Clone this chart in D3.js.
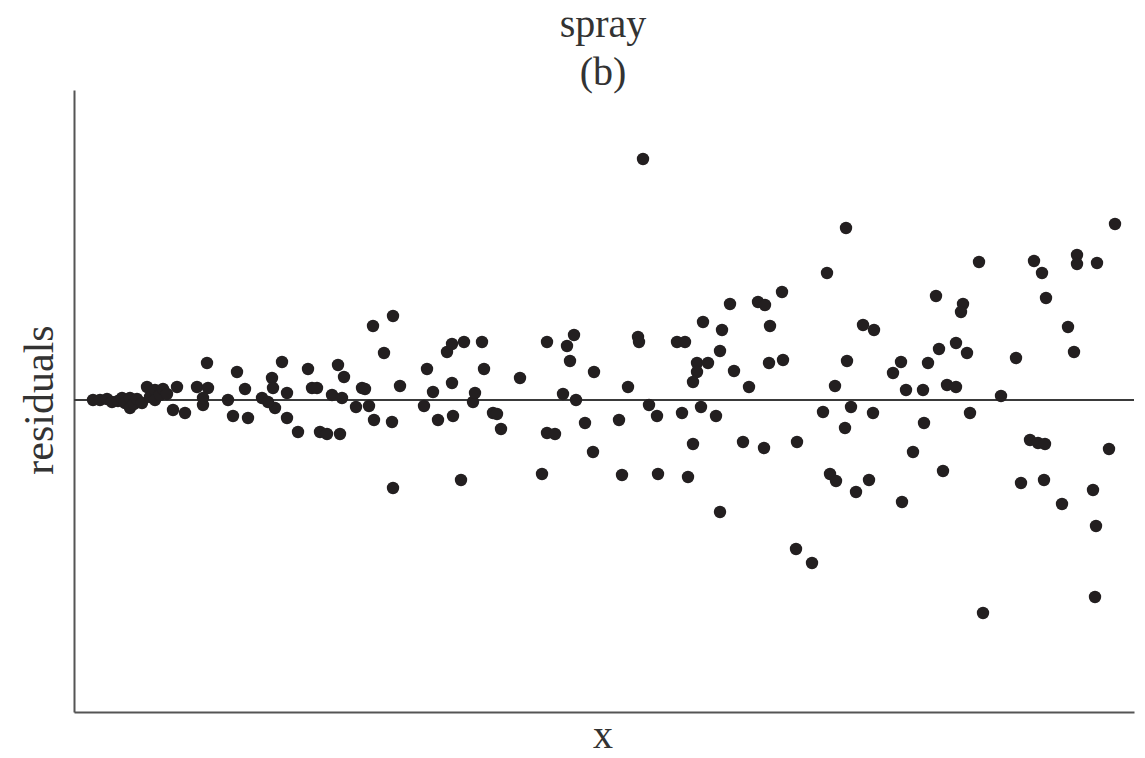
<!DOCTYPE html>
<html>
<head>
<meta charset="utf-8">
<script src="https://cdn.jsdelivr.net/npm/d3@7"></script>
<style>
  body { margin: 0; background: #fff; }
  svg text { font-family: "Liberation Serif", "DejaVu Serif", serif; fill: #333; }
</style>
</head>
<body>
<script>
"use strict";

// title lines and axis labels
var titleLines = ["spray", "(b)"];
var xLabel = "x";
var yLabel = "residuals";

var xValues = [
  1.9, 2.6, 3.3, 3.8, 4.4, 4.8, 5.1, 5.6, 5.6, 6.0, 6.3, 6.8, 7.3, 7.6, 8.1, 8.1, 8.6, 8.9, 9.3,
  9.9, 10.3, 11.1, 12.3, 12.9, 13.3, 13.4, 12.9, 15.4, 15.9, 16.3, 17.1, 17.4, 18.8, 19.8,
  19.9, 20.1, 19.4, 20.8, 21.3, 21.3, 22.4, 23.4, 23.8, 24.3, 24.6, 25.3, 25.8, 26.6, 26.4,
  27.0, 26.8, 28.2, 28.8, 29.1, 29.5, 29.9, 30.0, 31.0, 31.9, 31.8, 31.9, 32.6, 35.0, 35.3,
  35.9, 36.4, 37.3, 37.8, 37.8, 37.9, 38.7, 39.0, 39.9, 40.1, 40.8, 41.0, 41.9, 42.3, 42.7,
  44.6, 46.8, 47.3, 47.3, 48.1, 48.9, 49.3, 49.6, 50.0, 50.2, 51.1, 51.9, 52.0, 56.9, 55.4,
  56.4, 56.5, 60.3, 61.1, 62.3, 62.3, 61.9, 63.4, 62.9, 64.6, 64.8, 65.6, 66.0, 67.5, 68.4,
  69.1, 69.6, 69.5, 70.8, 70.9, 75.3, 77.2, 76.1, 77.3, 78.9, 80.0, 57.5, 58.3, 54.5, 60.8,
  62.7, 64.2, 61.9, 66.9, 69.0, 72.3, 54.8, 58.4, 61.4, 64.6, 72.2, 73.8, 74.9, 77.7, 77.1,
  75.6, 76.2, 78.2, 79.5, 104.1, 90.5, 96.0, 96.8, 100.3, 100.3, 102.3, 86.2, 88.9, 88.7,
  97.2, 99.4, 100.0, 86.5, 88.2, 89.3, 82.7, 81.9, 85.4, 94.2, 83.2, 84.9, 87.3, 88.2, 92.7,
  79.9, 85.0, 89.6, 95.6, 96.4, 97.1, 103.5, 83.9, 86.9, 82.8, 94.7, 97.0, 101.9, 98.8,
  102.2, 102.1, 90.9
];

// residuals, same order as xValues
var residuals = [
  0, 0, 0.1, -0.2, -0.1, 0.2, -0.3, 0.2, -0.8, -0.4, 0.1, -0.3, 1.3, 0.3, 1.0, 0, 0.5, 1.1, 0.6,
  -1.0, 1.3, -1.3, 1.3, -0.5, 3.7, 1.2, 0.2, 0, -1.6, 2.8, 1.1, -1.8, 0.2, 2.2,
  1.2, -0.8, -0.2, 3.8, 0.7, -1.8, -3.2, 3.1, 1.2, 1.2, -3.2, -3.4, 0.5, -3.4, 3.5,
  2.3, 0.2, -0.7, 1.2, 1.1, -0.6, 7.4, -2.0, 4.7, 8.4, -2.2, -8.8, 1.4, -0.6, 3.1,
  0.8, -2.0, 4.8, 5.6, 1.7, -1.6, -8.0, 5.8, -0.2, 0.7, 5.8, 3.1, -1.3, -1.4, -2.9,
  2.2, -7.4, 5.8, -3.3, -3.4, 0.6, 5.4, 3.9, 6.5, 0, -2.3, -5.2, 2.8, 24.1, 1.3,
  6.3, 5.8, 5.8, 5.8, 3.7, 2.8, 1.8, 3.7, 7.8, 4.9, 7.0, 9.6, 2.9, 1.3, 9.8,
  9.5, 7.4, 3.7, 10.8, 4.0, 12.7, 17.2, 1.4, 3.9, 7.5, 7.0, -0.5, -1.6, -2.0, -1.3,
  -0.7, -1.6, -4.4, -4.2, -4.8, -4.2, -7.5, -7.4, -7.7, -11.2, -14.9, -16.3, -1.2, -0.7, -2.8,
  -7.4, -8.1, -9.2, -8.0, 17.6, 13.8, 13.9, 12.7, 14.5, 13.6, 13.7, 10.4, 9.6, 8.8,
  10.2, 7.3, 4.8, 5.1, 5.7, 4.7, 3.8, 2.7, 3.7, 4.2, 1.0, 1.0, 1.5, 1.3, 0.4,
  -1.3, -2.3, -1.3, -4.0, -4.3, -4.4, -4.9, -5.2, -7.1, -10.2, -8.3, -8.0, -9.0, -10.4,
  -12.6, -19.7, -21.3
];

var width = 1145, height = 758;

var svg = d3.select("body").append("svg")
    .attr("width", width)
    .attr("height", height);

var x = d3.scaleLinear().domain([0, 106]).range([74, 1134]);
var y = d3.scaleLinear().domain([-31.2, 31.0]).range([712, 90]);

var points = xValues.map(function (d, i) { return { x: d, r: residuals[i] }; });

// axes: just the two plain lines, no ticks
svg.append("g")
    .attr("transform", "translate(0," + y(-31.2) + ")")
    .call(d3.axisBottom(x).tickValues([]).tickSizeOuter(0))
    .select(".domain").attr("stroke", "#555").attr("stroke-width", 2);

svg.append("g")
    .attr("transform", "translate(" + x(0) + ",0)")
    .call(d3.axisLeft(y).tickValues([]).tickSizeOuter(0))
    .select(".domain").attr("stroke", "#555").attr("stroke-width", 2);

// zero line
svg.append("line")
    .attr("x1", x(0)).attr("x2", x(106))
    .attr("y1", y(0)).attr("y2", y(0))
    .attr("stroke", "#3a3a3a")
    .attr("stroke-width", 2.2);

svg.append("g")
    .selectAll("circle")
    .data(points)
    .enter()
    .append("circle")
    .attr("cx", function (d) { return x(d.x); })
    .attr("cy", function (d) { return y(d.r); })
    .attr("r", 6.2)
    .attr("fill", "#231f20");

// title
svg.selectAll(".title")
    .data(titleLines)
    .enter()
    .append("text")
    .attr("class", "title")
    .attr("x", 603)
    .attr("y", function (d, i) { return 37 + i * 48; })
    .attr("text-anchor", "middle")
    .attr("font-size", 40)
    .text(function (d) { return d; });

svg.append("text")
    .attr("x", 603)
    .attr("y", 748)
    .attr("text-anchor", "middle")
    .attr("font-size", 40)
    .text(xLabel);

svg.append("text")
    .attr("transform", "translate(53,400) rotate(-90)")
    .attr("text-anchor", "middle")
    .attr("font-size", 42)
    .text(yLabel);
</script>
</body>
</html>
